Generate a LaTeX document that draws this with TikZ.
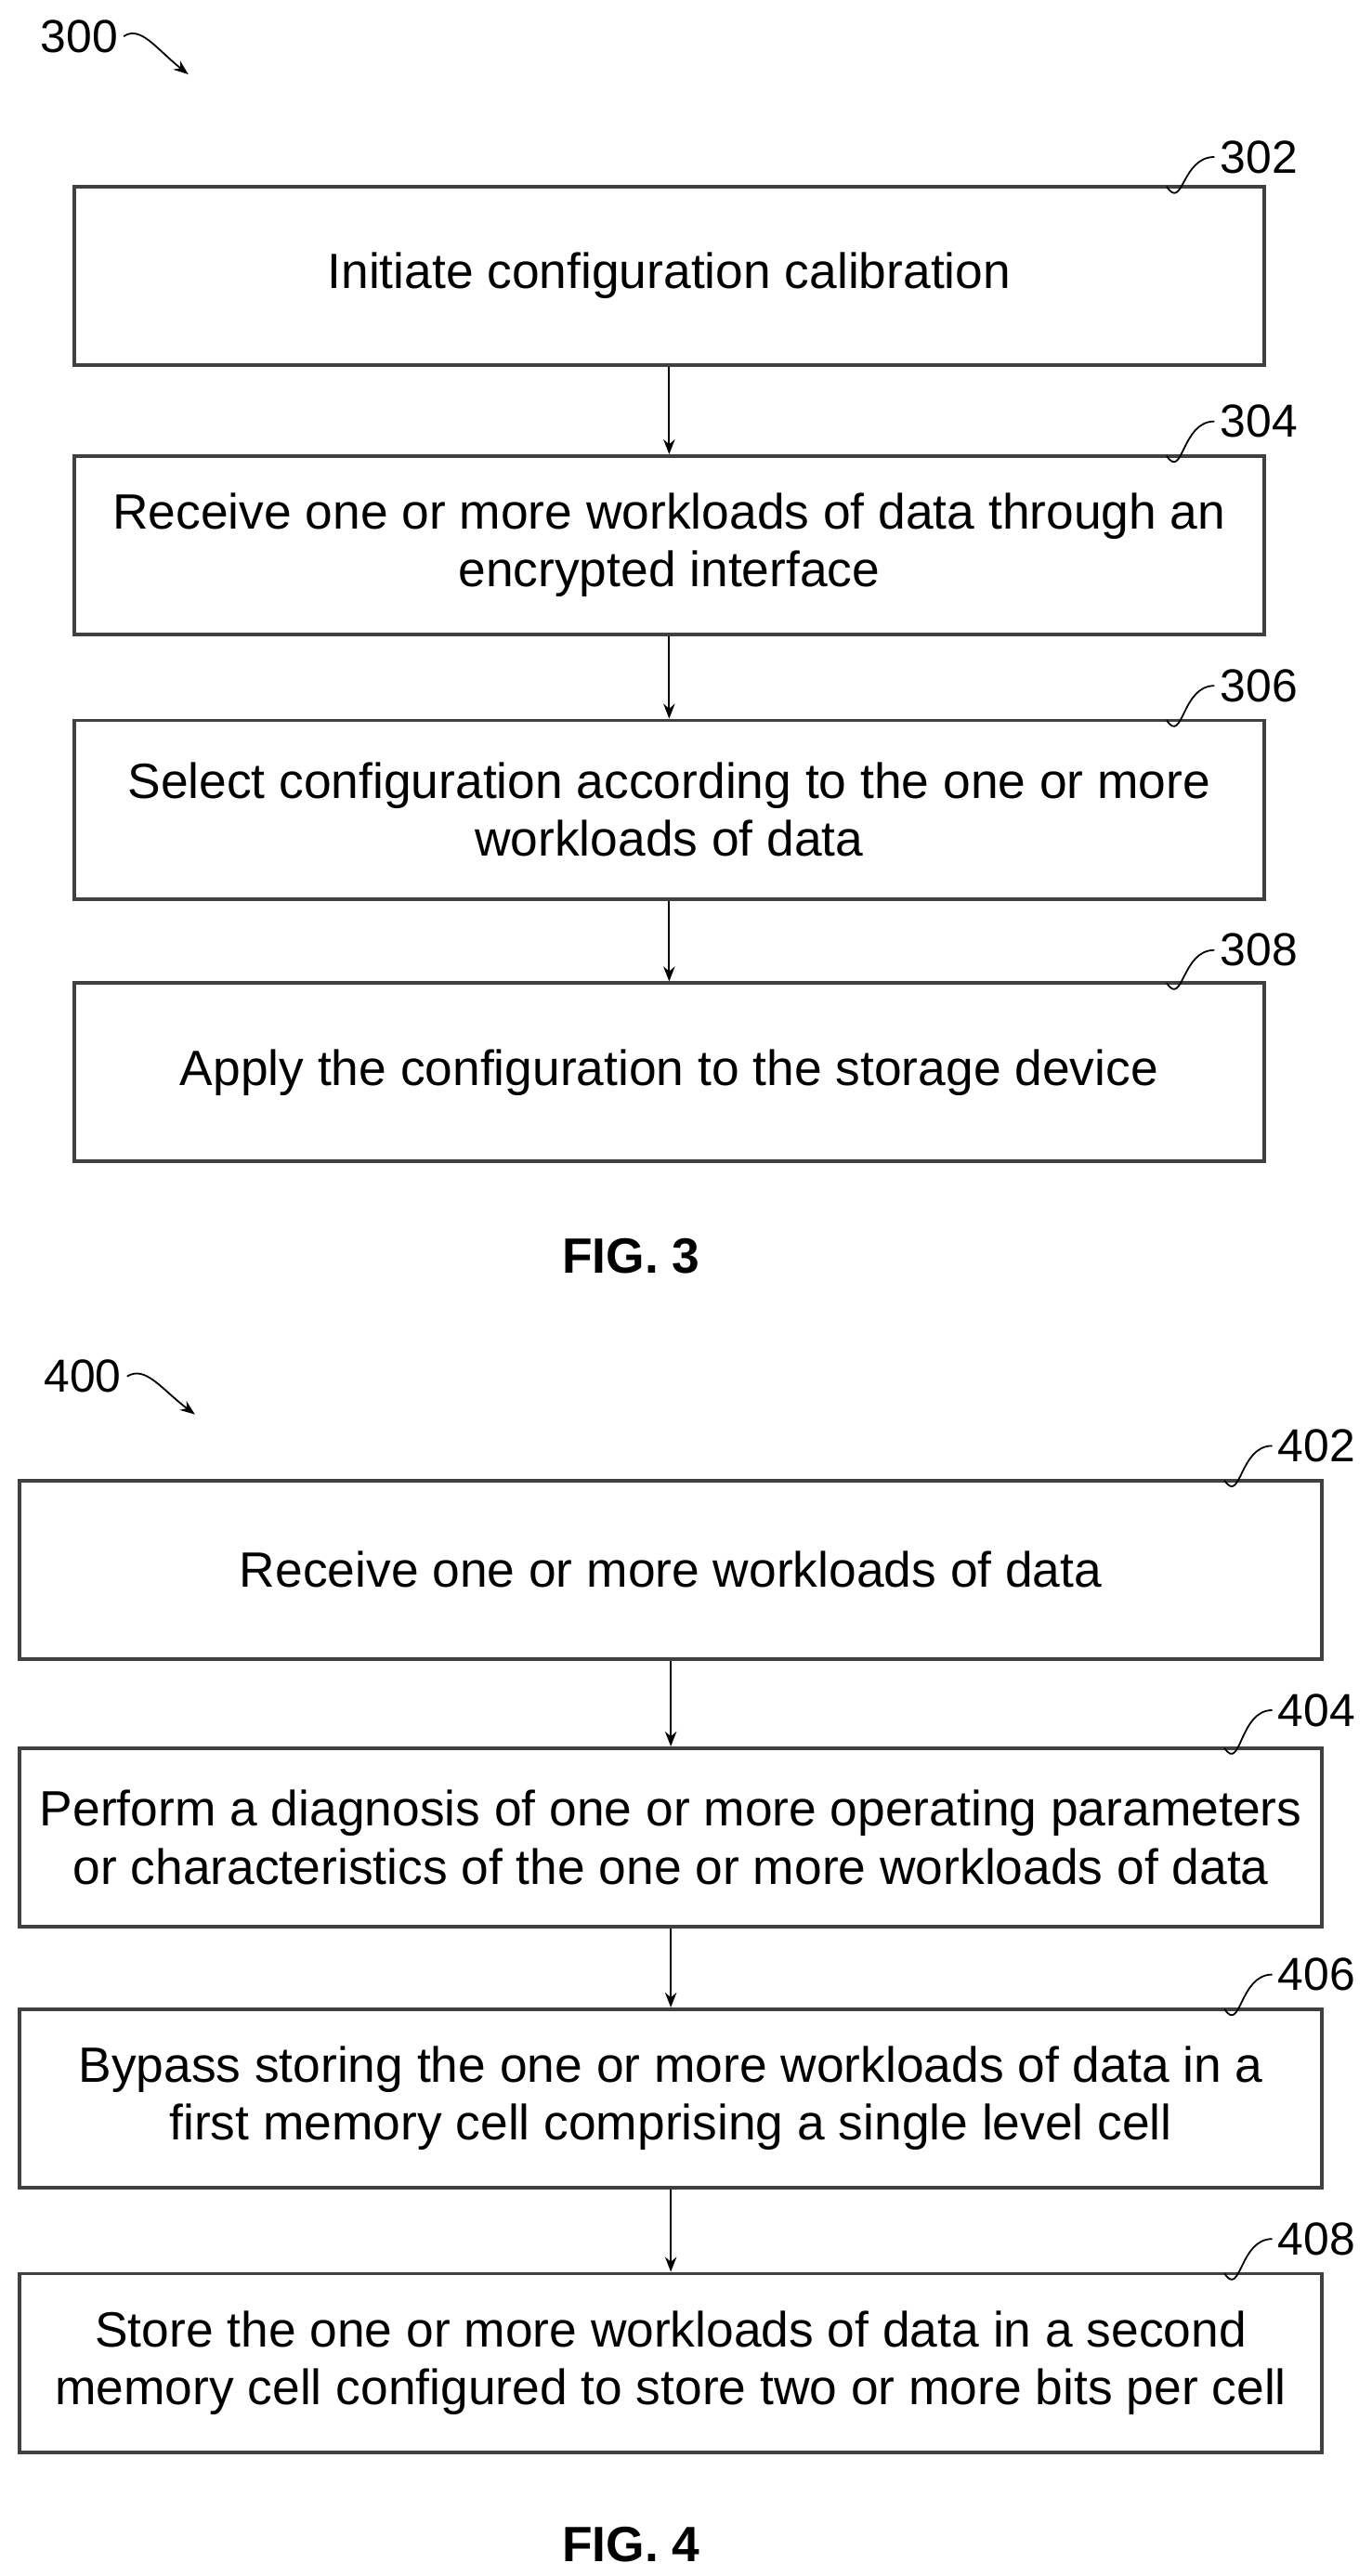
\documentclass[tikz,border=0pt]{standalone}
\usepackage{fontspec}
\setmainfont{Liberation Sans}
\usetikzlibrary{arrows.meta}
\tikzset{
  stepbox/.style={draw,line width=2.2pt,draw=black!75,minimum height=108pt,align=center,
    font=\fontsize{30}{35}\selectfont},
  ref/.style={font=\fontsize{28}{30}\selectfont},
  flow/.style={-{Stealth[length=9pt,width=7pt]},line width=1pt}
}
\begin{document}
\begin{tikzpicture}[x=1pt,y=-1pt]
\useasboundingbox (0,0) rectangle (830,1559);
% figure 3
\node (s302) [stepbox,minimum width=720pt] at (405,167) {Initiate configuration calibration} ;
\node (s304) [stepbox,minimum width=720pt] at (405,330) {Receive one or more workloads of data through an\\encrypted interface} ;
\node (s306) [stepbox,minimum width=720pt] at (405,490) {Select configuration according to the one or more\\workloads of data} ;
\node (s308) [stepbox,minimum width=720pt] at (405,649) {Apply the configuration to the storage device} ;
\draw [flow] (s302) to (s304) ;
\draw [flow] (s304) to (s306) ;
\draw [flow] (s306) to (s308) ;
\node (n302) [ref,anchor=west] at (735,95) {302} ;
\node (n304) [ref,anchor=west] at (735,255) {304} ;
\node (n306) [ref,anchor=west] at (735,415) {306} ;
\node (n308) [ref,anchor=west] at (735,575) {308} ;
\foreach \n in {302,304,306,308}
  \draw [line width=1pt] ([xshift=-60pt,yshift=-1pt]s\n.north east) .. controls ([xshift=-50pt,yshift=-16pt]s\n.north east) and ([xshift=-20pt]n\n.west) .. (n\n.west) ;
\node (fig3) [font=\bfseries\fontsize{30}{34}\selectfont] at (382,760) {FIG. 3} ;
\node (n300) [ref] at (48,22) {300} ;
\coordinate (a300) at (114,45) ;
\draw [-{Stealth[length=9pt]},line width=1pt] (n300.east) .. controls (85,15) and (95,30) .. (a300) ;
% figure 4
\node (s402) [stepbox,minimum width=788pt] at (406,950) {Receive one or more workloads of data} ;
\node (s404) [stepbox,minimum width=788pt] at (406,1112) {Perform a diagnosis of one or more operating parameters\\or characteristics of the one or more workloads of data} ;
\node (s406) [stepbox,minimum width=788pt] at (406,1270) {Bypass storing the one or more workloads of data in a\\first memory cell comprising a single level cell} ;
\node (s408) [stepbox,minimum width=788pt] at (406,1430) {Store the one or more workloads of data in a second\\memory cell configured to store two or more bits per cell} ;
\draw [flow] (s402) to (s404) ;
\draw [flow] (s404) to (s406) ;
\draw [flow] (s406) to (s408) ;
\node (n402) [ref,anchor=west] at (770,875) {402} ;
\node (n404) [ref,anchor=west] at (770,1035) {404} ;
\node (n406) [ref,anchor=west] at (770,1195) {406} ;
\node (n408) [ref,anchor=west] at (770,1355) {408} ;
\foreach \n in {402,404,406,408}
  \draw [line width=1pt] ([xshift=-60pt,yshift=-1pt]s\n.north east) .. controls ([xshift=-50pt,yshift=-16pt]s\n.north east) and ([xshift=-20pt]n\n.west) .. (n\n.west) ;
\node (fig4) [font=\bfseries\fontsize{30}{34}\selectfont] at (382,1540) {FIG. 4} ;
\node (n400) [ref] at (50,833) {400} ;
\coordinate (a400) at (118,856) ;
\draw [-{Stealth[length=9pt]},line width=1pt] (n400.east) .. controls (88,826) and (98,841) .. (a400) ;
\end{tikzpicture}
\end{document}
